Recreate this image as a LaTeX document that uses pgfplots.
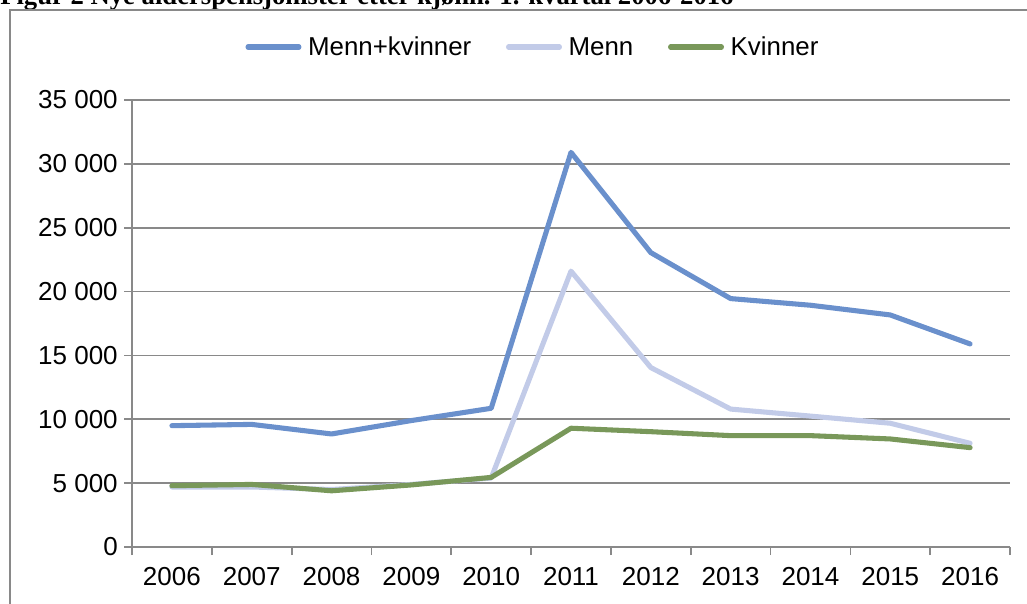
\documentclass[border=0pt]{standalone}
\usepackage{pgfplots}
\pgfplotsset{compat=1.18}
\usepackage{fontspec}
\setmainfont{Liberation Sans}
\newfontfamily\titlefont{Liberation Serif}
\definecolor{cTot}{RGB}{106,144,204}
\definecolor{cMen}{RGB}{194,203,232}
\definecolor{cWom}{RGB}{121,152,90}
\definecolor{cGrid}{RGB}{137,137,137}
\begin{document}
\begin{tikzpicture}
\useasboundingbox (0pt,0pt) rectangle (770.25pt,452.25pt);
\clip (0pt,0pt) rectangle (770.25pt,452.25pt);
\node[anchor=base west, inner sep=0pt, font=\titlefont\bfseries\fontsize{20}{24}\selectfont] at (0pt,448.5pt) {Figur 2 Nye alderspensjonister etter kjønn. 1. kvartal 2006-2016};
\draw[cGrid, line width=1.5pt] (7.5pt,-5pt) -- (7.5pt,444.75pt) -- (780pt,444.75pt);
\begin{axis}[
  at={(99pt,42pt)}, anchor=south west,
  scale only axis, width=658.5pt, height=335.25pt,
  xmin=0, xmax=11, ymin=0, ymax=35000,
  scaled y ticks=false,
  axis x line=bottom, axis y line=left,
  axis line style={-, cGrid, line width=1.3pt},
  xtick={0,1,...,11}, xticklabels={},
  extra x ticks={0.5,1.5,...,10.5},
  extra x tick labels={2006,2007,2008,2009,2010,2011,2012,2013,2014,2015,2016},
  extra x tick style={major tick length=0pt, grid=none},
  ytick={0,5000,...,35000},
  yticklabels={0,5 000,10 000,15 000,20 000,25 000,30 000,35 000},
  tick align=outside, major tick length=6pt,
  tick style={cGrid, line width=1.3pt},
  ymajorgrids, grid style={cGrid, line width=1.3pt},
  tick label style={font=\fontsize{19.5}{23}\selectfont, text=black},
  yticklabel style={inner sep=0pt, xshift=-4.5pt},
  xticklabel style={inner sep=0pt, anchor=north, yshift=-15pt},
  legend columns=3,
  legend style={at={(0.4555,1.1186)}, anchor=center, draw=none, fill=none,
    font=\fontsize{19.4}{23}\selectfont,
    /tikz/every even column/.append style={column sep=26pt},
    nodes={inner sep=0pt}},
  legend image code/.code={\draw[#1, line width=4pt, line cap=round] (0pt,0pt) -- (38pt,0pt);},
  every axis plot/.append style={line width=3.8pt, line join=round, line cap=round},
  clip=false,
]
\addplot[cTot] coordinates {(0.5,9500) (1.5,9600) (2.5,8850) (3.5,9900) (4.5,10860) (5.5,30900) (6.5,23050) (7.5,19450) (8.5,18930) (9.5,18170) (10.5,15900)};
\addlegendentry{\hspace{5pt}Menn+kvinner\vphantom{Mk+}}
\addplot[cMen] coordinates {(0.5,4700) (1.5,4700) (2.5,4500) (3.5,4900) (4.5,5400) (5.5,21600) (6.5,14050) (7.5,10800) (8.5,10250) (9.5,9690) (10.5,8120)};
\addlegendentry{\hspace{5pt}Menn\vphantom{Mk+}}
\addplot[cWom] coordinates {(0.5,4800) (1.5,4900) (2.5,4400) (3.5,4860) (4.5,5450) (5.5,9300) (6.5,9030) (7.5,8720) (8.5,8720) (9.5,8460) (10.5,7780)};
\addlegendentry{\hspace{5pt}Kvinner\vphantom{Mk+}}
\end{axis}
\end{tikzpicture}
\end{document}
